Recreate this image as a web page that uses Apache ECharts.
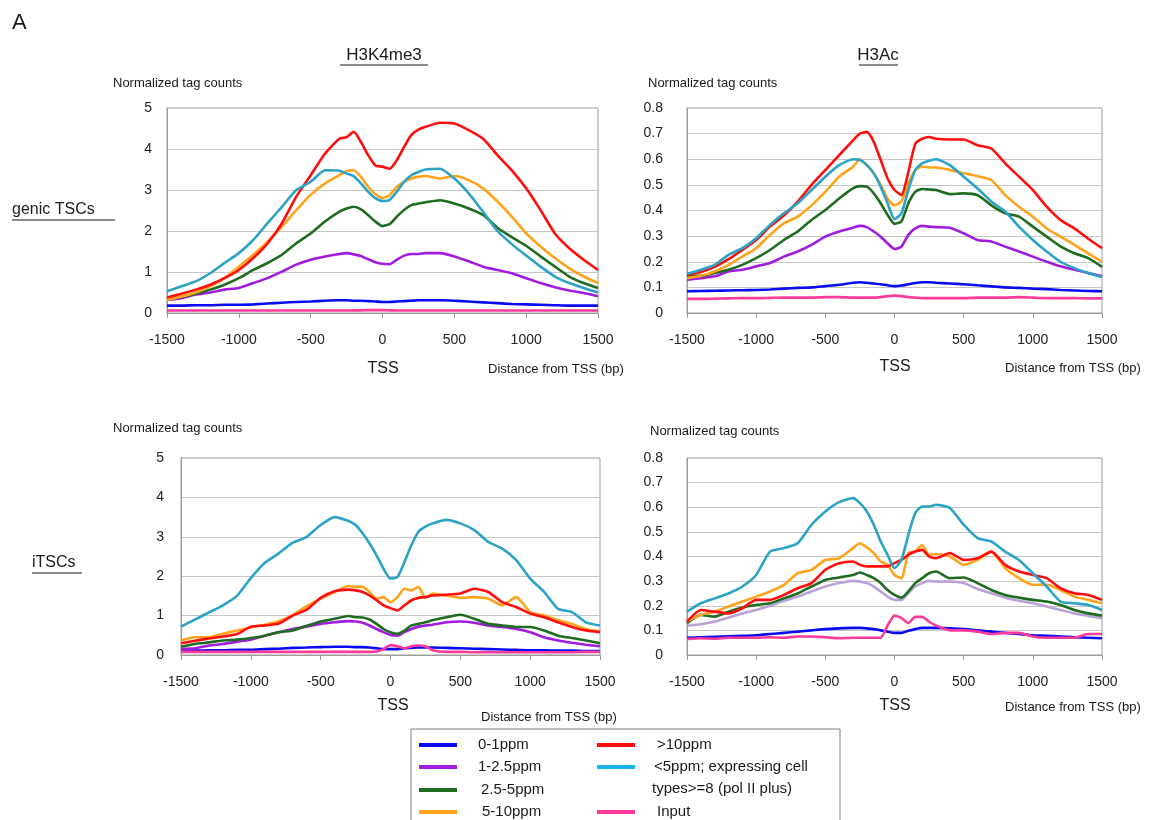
<!DOCTYPE html>
<html><head><meta charset="utf-8">
<script src="https://cdn.jsdelivr.net/npm/echarts@6/dist/echarts.min.js"></script>
<style>html,body{margin:0;padding:0;background:#fff}#c{width:1161px;height:820px}</style>
</head><body><div id="c"></div>
<script>
// x positions (bp from TSS) shared by all curves
const xPos = [-1500,-1400,-1300,-1200,-1100,-1000,-900,-800,-700,-600,-500,-400,
  -300,-250,-200,-150,-100,-50,0,50,100,150,200,250,300,
  400,500,600,700,800,900,1000,1100,1200,1300,1400,1500];
const xTickValues = [-1500,-1000,-500,0,500,1000,1500];

const seriesNames = ['0-1ppm','1-2.5ppm','2.5-5ppm','5-10ppm','>10ppm','<5ppm; expressing cell types>=8 (pol II plus)','Input'];

// ---- H3K4me3, genic TSCs ----
const tl_blue = [0.18,0.18,0.19,0.19,0.20,0.20,0.21,0.23,0.25,0.27,0.28,0.30, 0.31,0.31,0.30,0.30,0.29,0.28,0.27,0.27,0.28,0.29,0.30,0.31,0.31, 0.31,0.30,0.28,0.26,0.24,0.22,0.21,0.20,0.19,0.18,0.18,0.18];
const tl_purple = [0.32,0.36,0.45,0.50,0.57,0.61,0.73,0.85,1.01,1.18,1.30,1.38, 1.44,1.46,1.43,1.39,1.31,1.24,1.20,1.19,1.30,1.40,1.44,1.44,1.46, 1.46,1.38,1.26,1.13,1.05,0.97,0.85,0.73,0.63,0.55,0.49,0.41];
const tl_green = [0.34,0.40,0.47,0.57,0.69,0.85,1.05,1.22,1.42,1.70,1.94,2.23, 2.47,2.55,2.59,2.53,2.39,2.23,2.12,2.17,2.35,2.51,2.63,2.67,2.70, 2.75,2.67,2.55,2.39,2.08,1.85,1.64,1.38,1.13,0.89,0.73,0.61];
const tl_orange = [0.32,0.40,0.50,0.65,0.85,1.13,1.42,1.74,2.11,2.51,2.88,3.16, 3.36,3.46,3.48,3.32,3.08,2.90,2.80,2.88,3.08,3.20,3.28,3.32,3.34, 3.28,3.34,3.24,3.04,2.72,2.35,1.94,1.62,1.34,1.09,0.89,0.73];
const tl_red = [0.38,0.47,0.57,0.69,0.85,1.05,1.34,1.70,2.19,2.84,3.36,3.89, 4.25,4.29,4.42,4.17,3.85,3.60,3.57,3.52,3.73,4.05,4.34,4.47,4.54, 4.64,4.62,4.46,4.25,3.85,3.48,3.04,2.51,1.94,1.58,1.30,1.05];
const tl_teal = [0.53,0.65,0.77,0.97,1.22,1.46,1.78,2.19,2.59,3.00,3.20,3.48, 3.47,3.40,3.34,3.16,2.96,2.80,2.73,2.76,2.96,3.20,3.36,3.44,3.50, 3.52,3.28,2.92,2.47,2.00,1.68,1.40,1.13,0.89,0.73,0.61,0.50];
const tl_pink = [0.06,0.06,0.06,0.06,0.06,0.06,0.06,0.06,0.06,0.06,0.06,0.06, 0.06,0.06,0.065,0.065,0.07,0.07,0.07,0.065,0.06,0.06,0.06,0.06,0.06, 0.06,0.06,0.06,0.06,0.06,0.06,0.06,0.06,0.06,0.06,0.06,0.06];

// ---- H3Ac, genic TSCs ----
const tr_blue = [0.085,0.086,0.087,0.088,0.089,0.09,0.092,0.095,0.098,0.10,0.105,0.11, 0.118,0.12,0.118,0.115,0.112,0.108,0.105,0.107,0.112,0.117,0.12,0.12,0.118, 0.115,0.112,0.108,0.104,0.10,0.098,0.095,0.093,0.09,0.088,0.086,0.085];
const tr_purple = [0.13,0.136,0.143,0.162,0.169,0.182,0.195,0.22,0.24,0.266,0.298,0.318, 0.333,0.34,0.335,0.318,0.298,0.272,0.25,0.259,0.305,0.33,0.34,0.337,0.335, 0.333,0.311,0.285,0.279,0.259,0.24,0.22,0.20,0.182,0.169,0.156,0.143];
const tr_green = [0.145,0.145,0.156,0.169,0.188,0.214,0.246,0.285,0.318,0.363,0.402,0.447, 0.486,0.495,0.493,0.467,0.428,0.383,0.348,0.357,0.428,0.473,0.484,0.482,0.48, 0.464,0.467,0.46,0.42,0.389,0.376,0.337,0.298,0.26,0.233,0.214,0.18];
const tr_orange = [0.136,0.145,0.162,0.188,0.22,0.253,0.305,0.35,0.376,0.42,0.473,0.532, 0.571,0.60,0.577,0.545,0.50,0.447,0.42,0.435,0.506,0.558,0.571,0.568,0.568, 0.558,0.545,0.534,0.519,0.46,0.415,0.376,0.33,0.298,0.266,0.233,0.20];
const tr_red = [0.149,0.16,0.18,0.21,0.246,0.285,0.337,0.38,0.435,0.50,0.558,0.616, 0.674,0.70,0.707,0.668,0.597,0.525,0.48,0.46,0.55,0.66,0.68,0.687,0.68, 0.677,0.677,0.655,0.642,0.584,0.532,0.48,0.415,0.363,0.33,0.29,0.253];
const tr_teal = [0.153,0.169,0.188,0.227,0.253,0.292,0.344,0.389,0.428,0.48,0.532,0.577, 0.60,0.597,0.577,0.545,0.493,0.428,0.366,0.389,0.48,0.558,0.584,0.594,0.60, 0.577,0.532,0.486,0.435,0.396,0.337,0.285,0.24,0.20,0.175,0.156,0.14];
const tr_pink = [0.055,0.055,0.056,0.057,0.058,0.058,0.059,0.06,0.06,0.06,0.062,0.062, 0.06,0.06,0.06,0.06,0.062,0.066,0.068,0.066,0.062,0.06,0.058,0.058,0.058, 0.058,0.058,0.06,0.06,0.06,0.062,0.06,0.058,0.058,0.058,0.057,0.057];

// ---- H3K4me3, iTSCs ----
const bl_blue = [0.10,0.11,0.12,0.12,0.13,0.13,0.15,0.16,0.18,0.19,0.20,0.21, 0.21,0.20,0.20,0.19,0.17,0.15,0.15,0.15,0.17,0.18,0.19,0.19,0.19, 0.18,0.17,0.16,0.15,0.14,0.13,0.12,0.12,0.11,0.11,0.10,0.10];
const bl_purple = [0.15,0.17,0.24,0.28,0.34,0.39,0.49,0.58,0.66,0.72,0.79,0.83, 0.86,0.85,0.82,0.75,0.66,0.58,0.51,0.49,0.58,0.66,0.72,0.75,0.77, 0.83,0.85,0.82,0.75,0.71,0.66,0.58,0.45,0.37,0.31,0.26,0.22];
const bl_green = [0.21,0.28,0.32,0.37,0.39,0.43,0.49,0.58,0.62,0.74,0.85,0.92, 0.99,0.96,0.95,0.90,0.79,0.66,0.58,0.54,0.62,0.75,0.79,0.83,0.88, 0.96,1.02,0.92,0.79,0.75,0.71,0.71,0.62,0.49,0.43,0.37,0.30];
const bl_orange = [0.37,0.45,0.45,0.54,0.62,0.70,0.77,0.86,1.02,1.24,1.43,1.60, 1.75,1.73,1.73,1.60,1.43,1.47,1.34,1.47,1.68,1.64,1.73,1.45,1.56, 1.51,1.45,1.47,1.43,1.26,1.47,1.09,1.00,0.88,0.79,0.66,0.60];
const bl_red = [0.30,0.36,0.42,0.47,0.53,0.72,0.75,0.80,1.00,1.15,1.45,1.62, 1.66,1.64,1.60,1.51,1.39,1.26,1.19,1.13,1.26,1.39,1.45,1.47,1.51, 1.53,1.56,1.68,1.60,1.34,1.22,1.05,0.96,0.83,0.71,0.62,0.58];
const bl_teal = [0.72,0.90,1.08,1.26,1.50,1.95,2.34,2.58,2.85,3.00,3.30,3.50, 3.40,3.30,3.09,2.83,2.53,2.19,1.94,1.98,2.36,2.79,3.13,3.26,3.34, 3.43,3.34,3.17,2.87,2.70,2.41,1.94,1.60,1.17,1.09,0.83,0.75];
const bl_pink = [0.08,0.08,0.08,0.08,0.08,0.08,0.08,0.08,0.08,0.08,0.08,0.08, 0.08,0.08,0.08,0.08,0.09,0.15,0.25,0.22,0.17,0.22,0.24,0.22,0.12, 0.08,0.08,0.07,0.07,0.07,0.07,0.07,0.07,0.07,0.07,0.08,0.08];

// ---- H3Ac, iTSCs ----
const br_blue = [0.07,0.072,0.074,0.076,0.078,0.08,0.085,0.09,0.095,0.10,0.105,0.108, 0.11,0.11,0.108,0.105,0.10,0.095,0.09,0.09,0.098,0.105,0.11,0.11,0.11, 0.108,0.105,0.10,0.095,0.09,0.085,0.08,0.078,0.075,0.072,0.07,0.068];
const br_lavender = [0.119,0.125,0.136,0.152,0.169,0.183,0.20,0.22,0.237,0.258,0.278,0.292, 0.301,0.298,0.292,0.278,0.258,0.237,0.224,0.224,0.251,0.278,0.292,0.301,0.298, 0.298,0.292,0.268,0.251,0.233,0.22,0.21,0.197,0.183,0.169,0.159,0.149];
const br_green = [0.129,0.163,0.156,0.176,0.193,0.203,0.21,0.23,0.25,0.278,0.305,0.315, 0.325,0.335,0.325,0.312,0.292,0.264,0.244,0.233,0.258,0.292,0.312,0.332,0.339, 0.312,0.315,0.292,0.264,0.244,0.233,0.224,0.217,0.203,0.183,0.169,0.16];
const br_orange = [0.136,0.163,0.176,0.197,0.217,0.237,0.258,0.285,0.332,0.346,0.386,0.393, 0.434,0.454,0.437,0.414,0.38,0.366,0.325,0.312,0.414,0.42,0.447,0.407,0.41, 0.40,0.366,0.386,0.42,0.353,0.312,0.285,0.285,0.264,0.237,0.224,0.21];
const br_red = [0.136,0.183,0.176,0.169,0.19,0.224,0.224,0.244,0.271,0.292,0.346,0.373, 0.38,0.366,0.36,0.36,0.36,0.36,0.373,0.386,0.407,0.42,0.427,0.40,0.393, 0.414,0.386,0.393,0.42,0.366,0.339,0.325,0.312,0.271,0.251,0.244,0.224];
const br_teal = [0.176,0.21,0.23,0.25,0.278,0.325,0.42,0.434,0.454,0.529,0.583,0.621, 0.637,0.617,0.583,0.529,0.461,0.407,0.353,0.386,0.488,0.576,0.603,0.603,0.61, 0.597,0.529,0.475,0.461,0.42,0.386,0.332,0.278,0.217,0.21,0.203,0.183];
const br_pink = [0.065,0.068,0.066,0.07,0.07,0.07,0.072,0.07,0.075,0.075,0.072,0.068, 0.07,0.07,0.07,0.07,0.07,0.12,0.16,0.15,0.13,0.155,0.155,0.135,0.12, 0.10,0.10,0.095,0.085,0.09,0.09,0.075,0.07,0.07,0.07,0.085,0.085];

const FONT = 'Liberation Sans, Arial, sans-serif';
const C = {blue:'#0b0bf2', purple:'#a21ce0', green:'#1f6b1f', orange:'#ffa31a', red:'#ff0d0d', teal:'#2aa3c4', pink:'#fb3a9c', lavender:'#b9a3d6', tealLegend:'#1cb2ec'};

const panels = [
  {grid:{left:167,right:563,top:108,height:205}, yMax:5, yInt:1, yMargin:15, lines:[tl_blue,tl_purple,tl_green,tl_orange,tl_red,tl_teal,tl_pink], cols:[C.blue,C.purple,C.green,C.orange,C.red,C.teal,C.pink]},
  {grid:{left:687,right:59,top:108,height:205}, yMax:0.8, yInt:0.1, yMargin:24, lines:[tr_blue,tr_purple,tr_green,tr_orange,tr_red,tr_teal,tr_pink], cols:[C.blue,C.purple,C.green,C.orange,C.red,C.teal,C.pink]},
  {grid:{left:181,right:561,top:458,height:197}, yMax:5, yInt:1, yMargin:17, lines:[bl_blue,bl_purple,bl_green,bl_orange,bl_red,bl_teal,bl_pink], cols:[C.blue,C.purple,C.green,C.orange,C.red,C.teal,C.pink]},
  {grid:{left:687,right:59,top:458,height:197}, yMax:0.8, yInt:0.1, yMargin:24, lines:[br_blue,br_lavender,br_green,br_orange,br_red,br_teal,br_pink], cols:[C.blue,C.lavender,C.green,C.orange,C.red,C.teal,C.pink]}
];

const AX = '#9c9c9c';
const grids = [], xAxes = [], yAxes = [], series = [];
panels.forEach((p, i) => {
  grids.push(Object.assign({show:true, borderColor:AX, borderWidth:1, backgroundColor:'#fff'}, p.grid));
  xAxes.push({type:'value', gridIndex:i, min:-1500, max:1500, interval:500,
    axisLine:{show:true, onZero:false, lineStyle:{color:AX}},
    axisTick:{show:true, length:5, lineStyle:{color:AX}},
    axisLabel:{fontSize:14, color:'#222', fontFamily:FONT, margin:20,
      formatter: v => xTickValues.includes(v) ? String(v) : ''},
    splitLine:{show:false}});
  yAxes.push({type:'value', gridIndex:i, min:0, max:p.yMax, interval:p.yInt,
    axisLine:{show:true, onZero:false, lineStyle:{color:AX}}, axisTick:{show:false},
    axisLabel:{fontSize:14, color:'#222', fontFamily:FONT, margin:p.yMargin,
      formatter: v => p.yMax < 1 ? (Math.abs(v) < 1e-9 ? '0' : v.toFixed(1)) : String(Math.round(v))},
    splitLine:{show:true, lineStyle:{color:'#c6c6c6', width:1}}});
  p.lines.forEach((arr, k) => {
    series.push({type:'line', name:seriesNames[k], xAxisIndex:i, yAxisIndex:i,
      data: xPos.map((x, j) => [x, arr[j]]), showSymbol:false, symbol:'none',
      smooth:0.2, itemStyle:{color:p.cols[k]}, lineStyle:{color:p.cols[k], width:2.6}, z:2+k});
  });
});

function txt(text, x, y, size, align, extra) {
  return Object.assign({type:'text', x:x, y:y, style:{text:text, fill:'#1a1a1a', fontSize:size, fontFamily:FONT, align:align||'left', verticalAlign:'middle'}}, extra||{});
}
function uline(x1, x2, y) {
  return {type:'line', shape:{x1:x1, y1:y, x2:x2, y2:y}, style:{stroke:'#1a1a1a', lineWidth:1}};
}

const graphics = [
  txt('A', 12, 23, 22),
  txt('H3K4me3', 384, 55, 17, 'center'), uline(340, 428, 65),
  txt('H3Ac', 878, 55, 17, 'center'), uline(859, 898, 65),
  txt('genic TSCs', 12, 210, 16), uline(12, 115, 220),
  txt('iTSCs', 32, 563, 16), uline(32, 82, 573),
  txt('Normalized tag counts', 113, 83, 13),
  txt('Normalized tag counts', 648, 83, 13),
  txt('Normalized tag counts', 113, 428, 13),
  txt('Normalized tag counts', 650, 431, 13),
  txt('TSS', 383, 369, 16, 'center'),
  txt('TSS', 895, 367, 16, 'center'),
  txt('TSS', 393, 706, 16, 'center'),
  txt('TSS', 895, 706, 16, 'center'),
  txt('Distance from TSS (bp)', 488, 369, 13),
  txt('Distance from TSS (bp)', 1005, 368, 13),
  txt('Distance from TSS (bp)', 481, 717, 13),
  txt('Distance from TSS (bp)', 1005, 707, 13),
  {type:'rect', shape:{x:411, y:729, width:429, height:100}, style:{fill:'none', stroke:'#808080', lineWidth:1}, z:-1},
  txt('types>=8 (pol II plus)', 652, 789, 15)
];

const legendBase = {orient:'vertical', icon:'rect', itemWidth:38, itemHeight:4, itemGap:6, padding:0,
  selectedMode:false, textStyle:{fontSize:15, color:'#1a1a1a', fontFamily:FONT, lineHeight:15}};
function mkLegend(left, top, data, pad, extra) {
  return Object.assign({}, legendBase, {left:left, top:top, data:data,
    textStyle:Object.assign({}, legendBase.textStyle, {padding:[0,0,0,pad]})}, extra||{});
}
// one legend block per row so nothing wraps at the bottom edge
const legends = [
  mkLegend(419, 737.5, [seriesNames[0]], 16),
  mkLegend(419, 759.5, [seriesNames[1]], 16),
  mkLegend(419, 782.5, [seriesNames[2]], 19),
  mkLegend(419, 804.5, [seriesNames[3]], 20),
  mkLegend(597, 737.5, [seriesNames[4]], 17),
  mkLegend(597, 759.5, [{name:seriesNames[5], itemStyle:{color:C.tealLegend}}], 14,
    {formatter: n => n === seriesNames[5] ? '<5ppm; expressing cell' : n}),
  mkLegend(597, 804.5, [seriesNames[6]], 17)
];

const chart = echarts.init(document.getElementById('c'), null, {renderer:'canvas'});
chart.setOption({
  animation:false, backgroundColor:'#fff',
  textStyle:{fontFamily:FONT},
  grid:grids, xAxis:xAxes, yAxis:yAxes, series:series,
  legend:legends, graphic:graphics
});
</script>
</body></html>
